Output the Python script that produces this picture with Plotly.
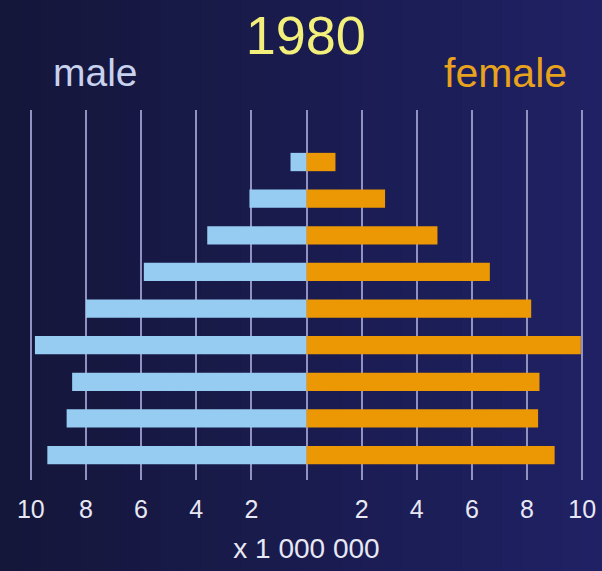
import plotly.graph_objects as go

# Data (millions), ordered bottom (youngest) to top (oldest)
age_groups = ["0–9", "10–19", "20–29", "30–39", "40–49", "50–59", "60–69", "70–79", "80+"]
male = [9.4, 8.7, 8.5, 9.85, 8.0, 5.9, 3.6, 2.07, 0.58]
female = [9.0, 8.4, 8.45, 9.95, 8.15, 6.65, 4.75, 2.85, 1.05]
tick_vals = [-10, -8, -6, -4, -2, 0, 2, 4, 6, 8, 10]
tick_text = ["10", "8", "6", "4", "2", "", "2", "4", "6", "8", "10"]

ypos = list(range(len(age_groups)))

fig = go.Figure()
fig.add_trace(go.Bar(
    y=ypos, x=[-v for v in male], orientation="h", name="male",
    marker=dict(color="#96cbf2", line=dict(width=0)), width=0.5,
    hovertext=age_groups, customdata=male,
    hovertemplate="%{hovertext}: %{customdata} M<extra>male</extra>",
))
fig.add_trace(go.Bar(
    y=ypos, x=female, orientation="h", name="female",
    marker=dict(color="#ec9804", line=dict(width=0)), width=0.5,
    hovertext=age_groups,
    hovertemplate="%{hovertext}: %{x} M<extra>female</extra>",
))

font_family = "Liberation Sans, Arial, sans-serif"

# horizontal background gradient (dark navy -> slightly brighter blue)
W, H = 602, 571
L, R, T, B = 17, 6, 110, 91
pw, ph = W - L - R, H - T - B
n = 30
c0 = (20, 22, 58)
c1 = (31, 33, 100)
shapes = []
for i in range(n):
    f = i / (n - 1)
    col = tuple(int(round(c0[k] + (c1[k] - c0[k]) * f)) for k in range(3))
    x0px = W * i / n
    x1px = W * (i + 1) / n + 1
    shapes.append(dict(
        type="rect", xref="paper", yref="paper", layer="below",
        x0=(x0px - L) / pw, x1=(x1px - L) / pw,
        y0=-(B + 2) / ph, y1=1 + (T + 2) / ph,
        fillcolor="rgb(%d,%d,%d)" % col, line=dict(width=0),
    ))

fig.update_layout(
    width=W, height=H,
    barmode="overlay",
    showlegend=False,
    paper_bgcolor="#181a48",
    plot_bgcolor="rgba(0,0,0,0)",
    margin=dict(l=L, r=R, t=T, b=B),
    font=dict(family=font_family, color="#e4e6f4"),
    title=dict(text="1980", x=0.508, xanchor="center", y=1 - 35 / 571, yanchor="middle",
               font=dict(size=54, color="#f2f07a", family=font_family)),
    xaxis=dict(
        range=[-10.5, 10.5], tickvals=tick_vals, ticktext=tick_text,
        showgrid=True, gridcolor="#9292c2", gridwidth=2, zeroline=False,
        showline=False, ticks="", ticklabelstandoff=12,
        tickfont=dict(size=25, color="#e8e8f4"),
        title=dict(text="x 1 000 000", font=dict(size=28, color="#e8e8f4"), standoff=16),
        fixedrange=True,
    ),
    yaxis=dict(
        range=[-0.68, 9.42], showticklabels=False, showgrid=False, zeroline=False,
        showline=False, ticks="", fixedrange=True,
    ),
    shapes=shapes,
    annotations=[
        dict(text="male", x=-7.65, y=1.1, xref="x", yref="paper", showarrow=False,
             xanchor="center", yanchor="middle",
             font=dict(size=39, color="#c8d2ee", family=font_family)),
        dict(text="female", x=7.2, y=1.1, xref="x", yref="paper", showarrow=False,
             xanchor="center", yanchor="middle",
             font=dict(size=41, color="#e8a21c", family=font_family)),
    ],
)

fig.write_html("out.html", post_script="document.body.style.margin='0';",
               config={"displayModeBar": False})
